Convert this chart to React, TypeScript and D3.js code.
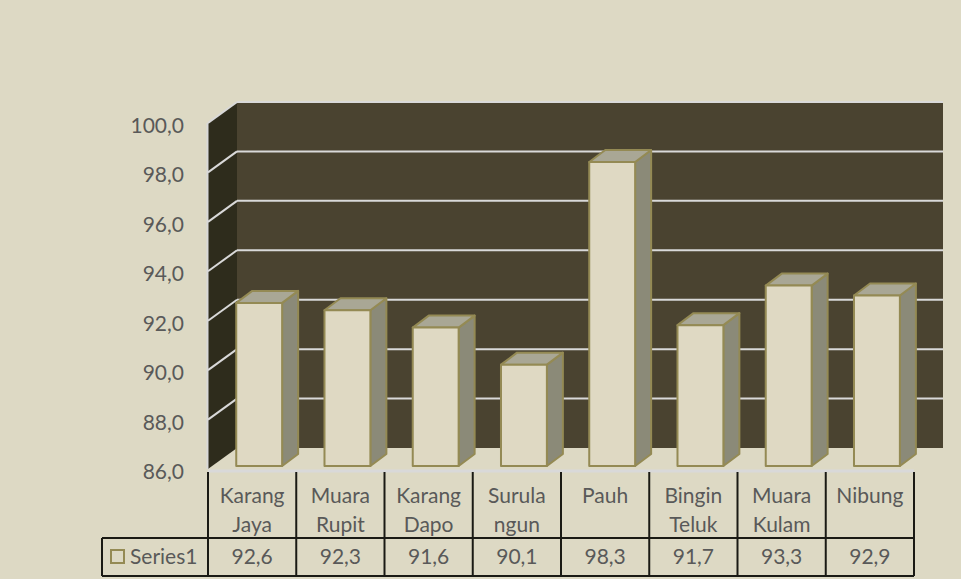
import React from "react";
import * as d3 from "d3";

const categories: string[][] = [
  ["Karang", "Jaya"],
  ["Muara", "Rupit"],
  ["Karang", "Dapo"],
  ["Surula", "ngun"],
  ["Pauh"],
  ["Bingin", "Teluk"],
  ["Muara", "Kulam"],
  ["Nibung"],
];
const values: number[] = [92.6, 92.3, 91.6, 90.1, 98.3, 91.7, 93.3, 92.9];
const valueLabels: string[] = ["92,6", "92,3", "91,6", "90,1", "98,3", "91,7", "93,3", "92,9"];
const yTicks: number[] = [86, 88, 90, 92, 94, 96, 98, 100];
const seriesName = "Series1";

const W = 961;
const H = 579;
const BG = "#ddd9c4";
const FONT = "Lato, 'Open Sans', sans-serif";

export default function App() {
  const x0 = 208, x1 = 914;
  const y0 = 469, y1 = 123;
  const dX = 29, dY = -21; // wall depth
  const bX = 16, bY = -12; // bar depth
  const barShift = -3;

  const y = d3.scaleLinear().domain([86, 100]).range([y0, y1]);
  const keys = categories.map((_, i) => String(i));
  const x = d3.scaleBand<string>().domain(keys).range([x0, x1]).padding(0);
  const bw = x.bandwidth();

  const tableTop = 472;
  const rowSplit = 538;
  const tableBottom = 576;
  const tableLeft = 102;

  return (
    <svg
      width={W}
      height={H}
      style={{ position: "absolute", left: 0, top: 0, display: "block" }}
      xmlns="http://www.w3.org/2000/svg"
    >
      <rect x={0} y={0} width={W} height={H} fill={BG} />
      {/* back wall */}
      <rect x={x0 + dX} y={y(100) + dY} width={x1 - x0} height={y(86) - y(100)} fill="#4a4330" />
      {/* left wall */}
      <polygon
        points={`${x0},${y(100)} ${x0 + dX},${y(100) + dY} ${x0 + dX},${y(86) + dY} ${x0},${y(86)}`}
        fill="#2e2c1c"
      />
      {/* gridlines */}
      {yTicks.map((t) => (
        <g key={t}>
          {t !== 86 && (
            <line x1={x0 + dX} x2={x1 + dX} y1={y(t) + dY} y2={y(t) + dY} stroke="#d9d9d9" strokeWidth={2} />
          )}
          {t !== 86 && (
            <line x1={x0} x2={x0 + dX} y1={y(t)} y2={y(t) + dY} stroke="#d9d9d9" strokeWidth={2} />
          )}
        </g>
      ))}
      {/* left axis line */}
      <line x1={x0 - 0.5} x2={x0 - 0.5} y1={y(100)} y2={y(86)} stroke="#d9d9d9" strokeWidth={2} />
      {/* y tick labels */}
      {yTicks.map((t) => (
        <text
          key={"l" + t}
          x={184}
          y={y(t) + 10}
          textAnchor="end"
          fontFamily={FONT}
          fontSize={21}
          fill="#595959"
        >
          {t.toFixed(1).replace(".", ",")}
        </text>
      ))}
      {/* bars */}
      {values.map((v, i) => {
        const xl = (x(String(i)) as number) + bw * 0.32;
        const xr = xl + bw * 0.52;
        const yt = y(v) + barShift;
        const yb = y(86) + barShift;
        return (
          <g key={"b" + i} stroke="#948a54" strokeWidth={2} strokeLinejoin="round">
            <polygon
              points={`${xr},${yt} ${xr + bX},${yt + bY} ${xr + bX},${yb + bY} ${xr},${yb}`}
              fill="#8b8a78"
            />
            <polygon
              points={`${xl},${yt} ${xl + bX},${yt + bY} ${xr + bX},${yt + bY} ${xr},${yt}`}
              fill="#a9a795"
            />
            <rect x={xl} y={yt} width={xr - xl} height={yb - yt} fill="#dfd9c3" />
          </g>
        );
      })}
      {/* floor front line */}
      <line x1={x0} x2={x1} y1={y(86) + 2} y2={y(86) + 2} stroke="#d9d9d9" strokeWidth={3} />
      {/* data table */}
      <g stroke="#1a1a14" strokeWidth={2} fill="none">
        {keys.map((k) => (
          <line key={"v" + k} x1={x(k) as number} x2={x(k) as number} y1={tableTop} y2={tableBottom} />
        ))}
        <line x1={x1} x2={x1} y1={tableTop} y2={tableBottom} />
        <line x1={tableLeft} x2={tableLeft} y1={rowSplit} y2={tableBottom} />
        <line x1={tableLeft} x2={x1} y1={rowSplit} y2={rowSplit} />
        <line x1={tableLeft} x2={x1} y1={tableBottom} y2={tableBottom} />
      </g>
      {categories.map((lines, i) => {
        const cx = (x(String(i)) as number) + bw / 2;
        return (
          <text key={"c" + i} textAnchor="middle" fontFamily={FONT} fontSize={21} fill="#595959">
            {lines.map((ln, j) => (
              <tspan key={j} x={cx} y={503 + j * 28.5}>
                {ln}
              </tspan>
            ))}
          </text>
        );
      })}
      {valueLabels.map((lab, i) => (
        <text
          key={"v" + i}
          x={(x(String(i)) as number) + bw / 2}
          y={564}
          textAnchor="middle"
          fontFamily={FONT}
          fontSize={21}
          fill="#595959"
        >
          {lab}
        </text>
      ))}
      <rect x={111} y={550} width={13} height={13} fill={BG} stroke="#948a54" strokeWidth={2} />
      <text x={130} y={564} fontFamily={FONT} fontSize={21} fill="#595959">
        {seriesName}
      </text>
    </svg>
  );
}
